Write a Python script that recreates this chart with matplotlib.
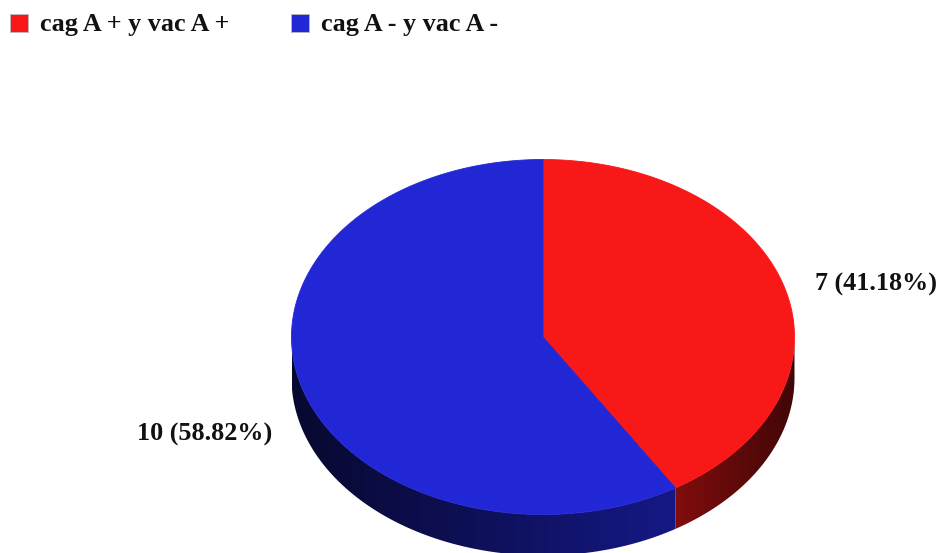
import numpy as np
import matplotlib
matplotlib.use("Agg")
import matplotlib.pyplot as plt
from matplotlib.patches import Polygon, Rectangle
from matplotlib.colors import to_rgb

# Data
categories = ["cag A + y vac A +", "cag A - y vac A -"]
counts = [7, 10]
colors = ["#F91818", "#2227D6"]
# side shading (left edge, right edge) as brightness factors per slice
side_shade = [(0.52, 0.26), (0.22, 0.62)]

W, H = 939, 553
fig = plt.figure(figsize=(W / 100, H / 100), dpi=100)
ax = fig.add_axes([0, 0, 1, 1])
ax.set_xlim(0, W)
ax.set_ylim(H, 0)
ax.axis("off")

# Geometry of the tilted pie, in pixel units
cx, cy = 543.0, 337.0
rx, ry = 251.5, 177.5
depth = 41.0


def ell(t, dy=0.0):
    return cx + rx * np.sin(t), cy - ry * np.cos(t) + dy


total = float(sum(counts))
bounds = np.concatenate([[0.0], np.cumsum(counts) / total]) * 2 * np.pi

font = dict(family=["Liberation Serif", "DejaVu Serif"], fontweight="bold",
            fontsize=18.8, color="#111111")

# Side walls (only the front half, parameter angles between pi/2 and 3pi/2)
for i in range(len(counts)):
    a0 = max(bounds[i], np.pi / 2)
    a1 = min(bounds[i + 1], 3 * np.pi / 2)
    if a1 <= a0:
        continue
    t = np.linspace(a0, a1, 200)
    xt, yt = ell(t)
    xb, yb = ell(t[::-1], depth)
    poly = Polygon(np.column_stack([np.concatenate([xt, xb]),
                                    np.concatenate([yt, yb])]),
                   closed=True, facecolor="none", edgecolor="none")
    ax.add_patch(poly)
    xmin, xmax = min(xt.min(), xb.min()), max(xt.max(), xb.max())
    ymin, ymax = min(yt.min(), yb.min()), max(yt.max(), yb.max())
    s0, s1 = side_shade[i]
    f = np.linspace(s0, s1, 256)
    base = np.array(to_rgb(colors[i]))
    img = (f[:, None] * base[None, :])[None, :, :]
    im = ax.imshow(img, extent=[xmin, xmax, ymax, ymin], aspect="auto",
                   interpolation="bilinear", zorder=1)
    im.set_clip_path(poly)

# Top face
for i in range(len(counts)):
    t = np.linspace(bounds[i], bounds[i + 1], 300)
    xt, yt = ell(t)
    pts = np.column_stack([np.concatenate([[cx], xt]),
                           np.concatenate([[cy], yt])])
    ax.add_patch(Polygon(pts, closed=True, facecolor=colors[i],
                         edgecolor=colors[i], linewidth=0.6, zorder=2))

# Value labels
label_pos = [(815, 284, "left"), (272, 434, "right")]
for i, (lx, ly, ha) in enumerate(label_pos):
    pct = 100 * counts[i] / total
    ax.text(lx, ly, f"{counts[i]} ({pct:.2f}%)", ha=ha, va="center", **font)

# Legend
legend_x = [10, 291]
for i, name in enumerate(categories):
    x0 = legend_x[i]
    ax.add_patch(Rectangle((x0, 14), 18, 18, facecolor=colors[i],
                           edgecolor="#bbbbbb", linewidth=0.6, zorder=3))
    ax.text(x0 + 30, 24, name, ha="left", va="center", **font)

fig.savefig("out.png", dpi=100)
